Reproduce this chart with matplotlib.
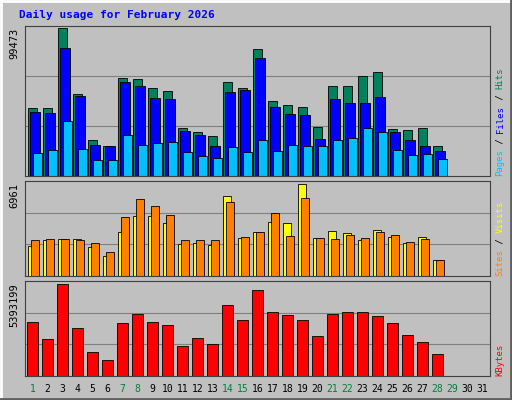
import matplotlib
matplotlib.use("Agg")
import matplotlib.pyplot as plt
from matplotlib.lines import Line2D

days = list(range(1, 29))
hits = [45700,45700,99473,55100,24200,20200,65900,65200,59100,57100,32300,29600,26900,63200,
        59100,85400,50400,47700,46400,32900,60500,60500,67200,69900,31600,30900,32300,20200]
files = [43000,42300,86000,53800,20800,20200,63200,60500,52400,51800,30200,27600,20200,56500,
         57800,79300,46400,41700,41000,24900,51800,49100,49100,53100,29600,24200,20200,16800]
pages = [15500,17500,37000,18100,10800,10800,27600,20800,22200,22900,16100,13400,12100,19500,
         16100,24200,16800,20800,20200,20200,24200,25500,32300,29600,17500,14100,14800,11400]
visits = [2270,2730,2800,2800,2200,1510,3330,4540,4540,4010,2420,2500,2350,6060,
          2880,3330,4090,4010,6961,2880,3410,3260,2730,3480,2950,2500,2950,1210]
sites = [2730,2800,2800,2730,2500,1820,4470,5830,5300,4620,2730,2730,2730,5600,
         2950,3330,4770,3030,5900,2880,2800,3100,2880,3330,3100,2570,2800,1210]
kbytes = [3166000,2169000,5393199,2814000,1407000,938000,3107000,3635000,3166000,2990000,
          1759000,2228000,1876000,4162000,3283000,5042000,3752000,3576000,3283000,2345000,
          3635000,3752000,3752000,3517000,3107000,2404000,1993000,1290000]
weekend_days = [1, 7, 8, 14, 15, 21, 22, 28, 29]
title = "Daily usage for February 2026"

W, H = 512, 400
BG = "#C0C0C0"
fig = plt.figure(figsize=(W/100, H/100), dpi=100, facecolor=BG)

def ax_at(x0, y0, x1, y1):
    return fig.add_axes([x0/W, 1-y1/H, (x1-x0)/W, (y1-y0)/H])

# outer bevel
fig.add_artist(Line2D([0, 1], [1-1/H, 1-1/H], color="white", lw=2, transform=fig.transFigure))
fig.add_artist(Line2D([1/W, 1/W], [0, 1], color="white", lw=2, transform=fig.transFigure))
fig.add_artist(Line2D([0, 1], [1/H, 1/H], color="#606060", lw=2, transform=fig.transFigure))
fig.add_artist(Line2D([1-1/W, 1-1/W], [0, 1], color="#606060", lw=2, transform=fig.transFigure))

fig.text(19/W, 1-15/H, title, color="#0000FF", fontsize=8, fontweight="bold",
         family="DejaVu Sans Mono", va="center", ha="left")

panels = [(26, 176), (181, 276), (281, 376)]
axes = [ax_at(25, a, 490, b) for a, b in panels]
for ax in axes:
    ax.set_facecolor(BG)
    ax.set_xlim(0.5, 31.5)
    ax.set_xticks([])
    ax.set_yticks([])
    for s in ax.spines.values():
        s.set_color("#404040")

def grid(ax, top):
    for k in (1, 2):
        ax.axhline(top*k/3, color="#808080", lw=0.8, zorder=0)

a1, a2, a3 = axes
a1.set_ylim(0, 99473*1.013); grid(a1, 99473*1.013)
a1.bar([d-0.3 for d in days], hits, width=0.62, color="#00805C", edgecolor="black", lw=0.6, align="edge")
a1.bar([d-0.15 for d in days], files, width=0.62, color="#0000FF", edgecolor="black", lw=0.6, align="edge")
a1.bar([d+0.0 for d in days], pages, width=0.62, color="#00C0FF", edgecolor="black", lw=0.6, align="edge")
a1.set_xlim(0.5, 31.5)

a2.set_ylim(0, 6961*1.033); grid(a2, 6961*1.033)
a2.bar([d-0.3 for d in days], visits, width=0.55, color="#FFFF00", edgecolor="black", lw=0.6, align="edge")
a2.bar([d-0.1 for d in days], sites, width=0.55, color="#FF8000", edgecolor="black", lw=0.6, align="edge")
a2.set_xlim(0.5, 31.5)

a3.set_ylim(0, 5393199*1.033); grid(a3, 5393199*1.033)
a3.bar([d-0.35 for d in days], kbytes, width=0.7, color="#FF0000", edgecolor="black", lw=0.6, align="edge")
a3.set_xlim(0.5, 31.5)

for d in range(1, 32):
    x = (25 + (d-0.5)*465/31)/W
    fig.text(x, 1-389/H, str(d), ha="center", va="center", fontsize=7,
             family="DejaVu Sans Mono", color="#008040" if d in weekend_days else "black")

maxlabels = ["99473", "6961", "5393199"]
for (a, b), lab in zip(panels, maxlabels):
    fig.text(14/W, 1-(a+2)/H, lab, rotation=90, ha="center", va="top", fontsize=7.5,
             family="DejaVu Sans Mono")

cw = 0.602*6.5*100/72
right = [
    [("Pages", "#00C0FF"), (" / ", "black"), ("Files", "#0000FF"), (" / ", "black"), ("Hits", "#00805C")],
    [("Sites", "#FF8000"), (" / ", "black"), ("Visits", "#FFFF00")],
    [("KBytes", "#FF0000")],
]
for (a, b), parts in zip(panels, right):
    y = b
    for txt, col in parts:
        n = len(txt)
        fig.text(500/W, 1-y/H, txt, rotation=90, ha="center", va="bottom", fontsize=6.5,
                 family="DejaVu Sans Mono", color=col)
        y -= n*cw

fig.savefig("out.png", dpi=100, facecolor=BG)
